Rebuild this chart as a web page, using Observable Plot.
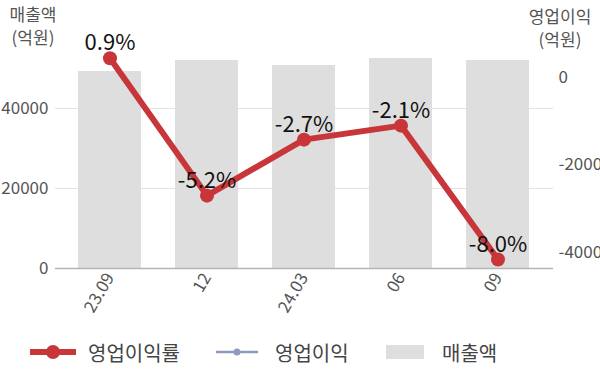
<!DOCTYPE html>
<html><head><meta charset="utf-8">
<script src="https://cdn.jsdelivr.net/npm/d3@7"></script>
<script src="https://cdn.jsdelivr.net/npm/@observablehq/plot@0.6"></script>
<style>
body{margin:0;background:#fff;font-family:"Noto Sans CJK KR","Noto Sans",sans-serif;}
#wrap{position:relative;width:600px;height:383px;overflow:hidden;}
.ttl{position:absolute;font-size:17px;color:#555;text-align:center;line-height:23px;}
#legend{position:absolute;left:0;top:336px;width:600px;height:32px;font-size:20px;color:#444;}
.li{position:absolute;top:0;display:flex;align-items:center;height:32px;}
</style></head><body>
<div id="wrap">
<div id="chart"></div>
<div class="ttl" style="left:0px;top:2px;width:66px;">매출액<br>(억원)</div>
<div class="ttl" style="left:520px;top:4px;width:80px;">영업이익<br>(억원)</div>
<div id="legend"></div>
</div>
<script>
const periods = ["23.09", "12", "24.03", "06", "09"];
const sales = [49250, 52000, 50750, 52500, 52000];          // 매출액 (억원)
const profit = [440, -2700, -1420, -1100, -4160];          // 영업이익 (억원)
const margin = [0.9, -5.2, -2.7, -2.1, -8.0];               // 영업이익률 (%)
const leftTicks = [0, 20000, 40000];
const rightTicks = [0, -2000, -4000];

// map right-axis (영업이익) values into left-axis units
const toLeft = v => v * 10.9375 + 47750;

const data = periods.map((p, i) => ({p, sales: sales[i], profit: profit[i], pL: toLeft(profit[i]), margin: margin[i]}));

const red = "#c8363a", blue = "#8e9bbd";
const font = '"Noto Sans CJK KR","Noto Sans",sans-serif';

const chart = Plot.plot({
  width: 600, height: 325,
  marginTop: 28, marginBottom: 57, marginLeft: 55, marginRight: 47,
  style: {fontFamily: font, background: "transparent"},
  x: {domain: periods, paddingInner: 0.35, paddingOuter: 0.234, label: null},
  y: {domain: [0, 60000], label: null},
  marks: [
    Plot.gridY(leftTicks.filter(d => d > 0), {stroke: "#e3e3e3", strokeOpacity: 1}),
    Plot.barY(data, {x: "p", y: "sales", fill: "#dedede"}),
    Plot.ruleY([0], {stroke: "#b5b5b5", strokeWidth: 1.5}),
    Plot.axisY(leftTicks, {anchor: "left", tickSize: 0, tickPadding: 7, fontSize: 17, fill: "#555", label: null, tickFormat: d => String(d)}),
    Plot.axisY(rightTicks.map(toLeft), {anchor: "right", tickSize: 0, tickPadding: 5, fontSize: 17, fill: "#555", label: null,
      tickFormat: (d, i) => String(rightTicks[i])}),
    Plot.axisX({tickSize: 0, tickRotate: -60, fontSize: 17, fill: "#555", tickPadding: 6, label: null}),
    Plot.line(data, {x: "p", y: "pL", stroke: blue, strokeWidth: 2}),
    Plot.dot(data, {x: "p", y: "pL", r: 3, fill: blue}),
    Plot.line(data, {x: "p", y: "pL", stroke: red, strokeWidth: 6}),
    Plot.dot(data, {x: "p", y: "pL", r: 7, fill: red}),
    Plot.text(data, {x: "p", y: "pL", text: d => d.margin.toFixed(1) + "%", dy: -15, fontSize: 22, fill: "#111", stroke: "none"})
  ]
});
document.getElementById("chart").appendChild(chart);

// legend
const items = [
  {label: "영업이익률", x: 30, kind: "redline"},
  {label: "영업이익", x: 216, kind: "blueline"},
  {label: "매출액", x: 386, kind: "rect"}
];
const leg = document.getElementById("legend");
items.forEach(it => {
  const d = document.createElement("div");
  d.className = "li";
  d.style.left = it.x + "px";
  let sym;
  if (it.kind === "redline") sym = `<svg width="46" height="20"><line x1="0" y1="10" x2="46" y2="10" stroke="${red}" stroke-width="6"/><circle cx="23" cy="10" r="7" fill="${red}"/></svg>`;
  else if (it.kind === "blueline") sym = `<svg width="42" height="20"><line x1="0" y1="10" x2="42" y2="10" stroke="${blue}" stroke-width="2.5"/><circle cx="21" cy="10" r="3.5" fill="${blue}"/></svg>`;
  else sym = `<svg width="38" height="20"><rect x="0" y="3" width="38" height="14" fill="#dedede"/></svg>`;
  d.innerHTML = sym + `<span style="margin-left:${it.kind==='redline'?12:(it.kind==='blueline'?17:18)}px">${it.label}</span>`;
  leg.appendChild(d);
});
</script>
</body></html>
